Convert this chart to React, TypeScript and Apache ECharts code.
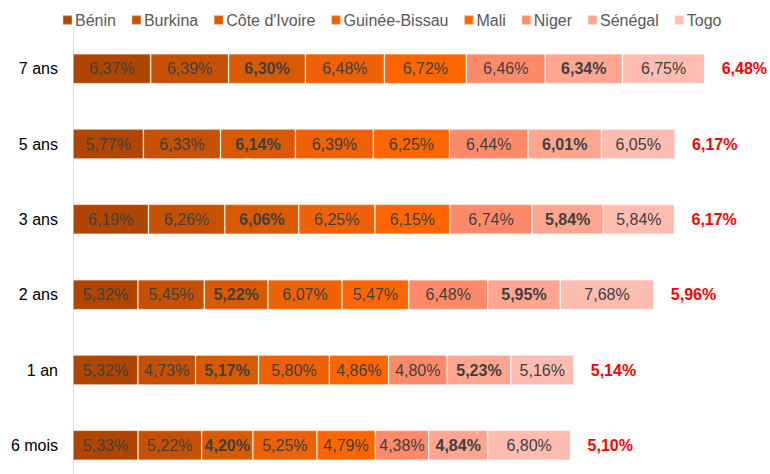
import React, { useEffect, useRef } from "react";
import * as echarts from "echarts";

const categories = ["6 mois", "1 an", "2 ans", "3 ans", "5 ans", "7 ans"];
const countries = ["Bénin", "Burkina", "Côte d'Ivoire", "Guinée-Bissau", "Mali", "Niger", "Sénégal", "Togo"];
const colors = ["#B04500", "#C65104", "#D95A00", "#EE6106", "#FF6600", "#FF8A6A", "#FFA590", "#FFBCB0"];
const boldSeries = ["Côte d'Ivoire", "Sénégal"];

const benin = [5.33, 5.32, 5.32, 6.19, 5.77, 6.37];
const burkina = [5.22, 4.73, 5.45, 6.26, 6.33, 6.39];
const coteIvoire = [4.2, 5.17, 5.22, 6.06, 6.14, 6.3];
const guineeBissau = [5.25, 5.8, 6.07, 6.25, 6.39, 6.48];
const mali = [4.79, 4.86, 5.47, 6.15, 6.25, 6.72];
const niger = [4.38, 4.8, 6.48, 6.74, 6.44, 6.46];
const senegal = [4.84, 5.23, 5.95, 5.84, 6.01, 6.34];
const togo = [6.8, 5.16, 7.68, 5.84, 6.05, 6.75];
const moyenne = [5.1, 5.14, 5.96, 6.17, 6.17, 6.48];

const seriesValues = [benin, burkina, coteIvoire, guineeBissau, mali, niger, senegal, togo];

const fmt = (v: number) => v.toFixed(2).replace(".", ",") + "%";

export default function App() {
  const ref = useRef<HTMLDivElement>(null);
  useEffect(() => {
    document.body.style.margin = "0";
    document.body.style.overflow = "hidden";
    if (!ref.current) return;
    const chart = echarts.init(ref.current, null, { renderer: "svg" });
    const font = "'Liberation Sans', Arial, sans-serif";
    const series: any[] = countries.map((name, i) => ({
      name,
      type: "bar",
      stack: "total",
      barWidth: 30,
      data: seriesValues[i],
      itemStyle: { color: colors[i], borderColor: "rgba(255,255,255,0.2)", borderWidth: 1 },
      label: {
        show: true,
        position: "inside",
        color: "#404040",
        fontFamily: font,
        fontSize: 16,
        fontWeight: boldSeries.includes(name) ? "bold" : "normal",
        formatter: (p: any) => fmt(p.value),
      },
    }));
    series.push({
      name: "Moyenne",
      type: "bar",
      stack: "total",
      barWidth: 30,
      data: moyenne.map(() => 0),
      itemStyle: { color: "transparent" },
      label: {
        show: true,
        position: "right",
        distance: 17,
        color: "#FF0000",
        fontFamily: font,
        fontSize: 16,
        fontWeight: "bold",
        formatter: (p: any) => fmt(moyenne[p.dataIndex]),
      },
    });
    chart.setOption({
      animation: false,
      textStyle: { fontFamily: font },
      legend: {
        data: countries,
        left: 57,
        top: 7,
        itemWidth: 9,
        itemHeight: 9,
        itemGap: 15,
        icon: "rect",
        textStyle: { color: "#595959", fontSize: 16, fontFamily: font, padding: [0, 0, 0, -2] },
      },
      grid: { left: 73, right: 2, top: 31, bottom: 0, containLabel: false },
      xAxis: {
        type: "value",
        min: 0,
        max: 57,
        show: false,
      },
      yAxis: {
        type: "category",
        data: categories,
        axisLine: { show: true, lineStyle: { color: "#D9D9D9", width: 1 } },
        axisTick: { show: false },
        axisLabel: { color: "#000000", fontSize: 16, fontFamily: font, margin: 15 },
      },
      series,
    });
    return () => chart.dispose();
  }, []);
  return <div ref={ref} style={{ width: 770, height: 483 }} />;
}
